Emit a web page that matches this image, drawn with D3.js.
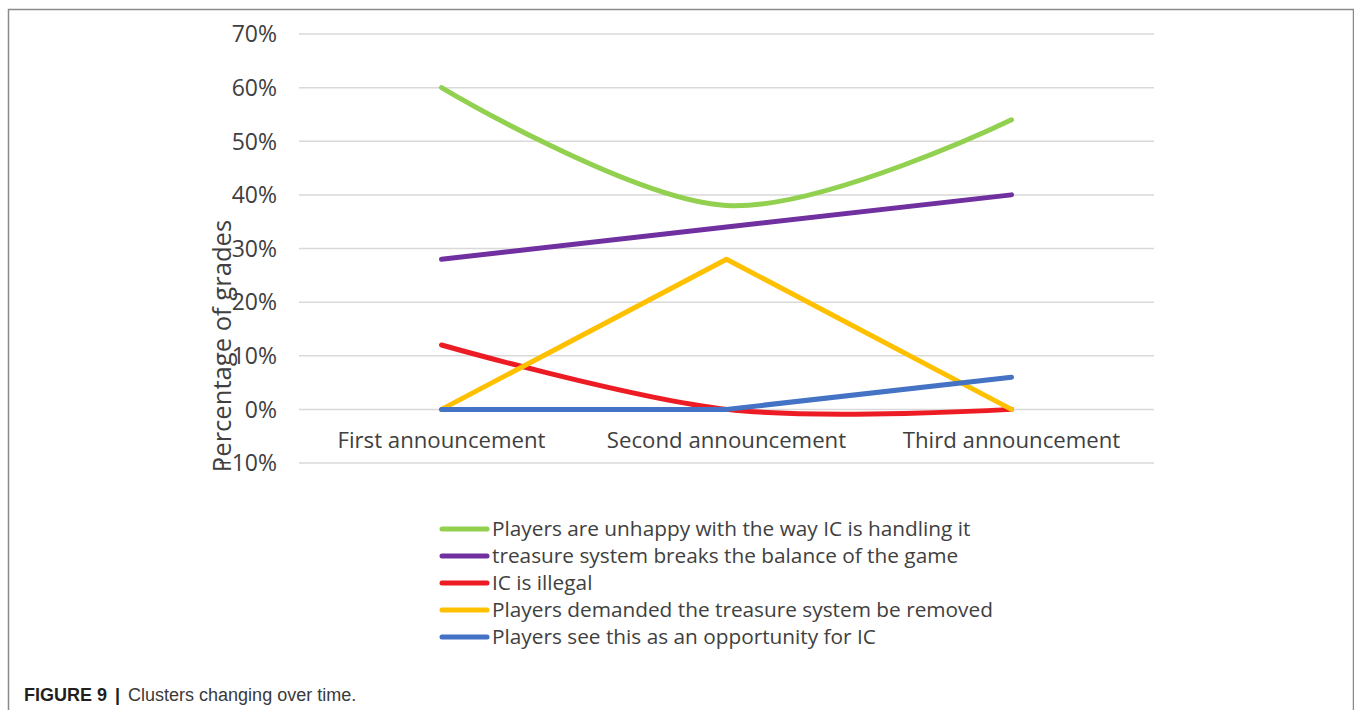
<!DOCTYPE html>
<html>
<head>
<meta charset="utf-8">
<script src="https://cdn.jsdelivr.net/npm/d3@7"></script>
<style>
  body { margin: 0; background: #fff; }
  svg { display: block; }
</style>
</head>
<body>
<svg width="1354" height="710"></svg>
<script>
"use strict";

const categories = ["First announcement", "Second announcement", "Third announcement"];
const seriesNames = [
    "Players are unhappy with the way IC is handling it",
    "treasure system breaks the balance of the game",
    "IC is illegal",
    "Players demanded the treasure system be removed",
    "Players see this as an opportunity for IC"
];
const unhappy = [0.60, 0.38, 0.54];
const balance = [0.28, 0.34, 0.40];
const illegal = [0.12, 0.00, 0.00];
const removed = [0.00, 0.28, 0.00];
const opportunity = [0.00, 0.00, 0.06];
const yTicks = [-0.1, 0, 0.1, 0.2, 0.3, 0.4, 0.5, 0.6, 0.7];

const colors = ["#92D050", "#7030A0", "#ED1C24", "#FFC000", "#4472C4"];
const smooth = [true, false, true, false, false];
const seriesValues = [unhappy, balance, illegal, removed, opportunity];

const svg = d3.select("svg");
const font = "'Open Sans', 'Noto Sans', sans-serif";
const textColor = "#404040";

// frame round the figure
svg.append("path")
    .attr("d", "M8.5,710 V9.5 H1353.5 V710")
    .attr("fill", "none")
    .attr("stroke", "#8a8a8a")
    .attr("stroke-width", 1.5);

const left = 299, right = 1154;
const xScale = d3.scaleBand()
    .domain(categories)
    .range([left, right]);

const yScale = d3.scaleLinear()
    .domain([-0.1, 0.7])
    .range([463, 34]);

const chart = svg.append("g");

// grid lines
chart.append("g")
    .selectAll("line")
    .data(yTicks)
    .enter()
    .append("line")
    .attr("x1", left)
    .attr("x2", right)
    .attr("y1", d => yScale(d))
    .attr("y2", d => yScale(d))
    .attr("stroke", "#d9d9d9")
    .attr("stroke-width", 1.5);

// y tick labels
chart.append("g")
    .selectAll("text")
    .data(yTicks)
    .enter()
    .append("text")
    .attr("x", 277)
    .attr("y", d => yScale(d))
    .attr("dy", "0.36em")
    .attr("text-anchor", "end")
    .attr("font-family", font)
    .attr("font-size", 23)
    .attr("fill", textColor)
    .text(d => d3.format(".0%")(d));

// category labels
chart.append("g")
    .selectAll("text")
    .data(categories)
    .enter()
    .append("text")
    .attr("x", d => xScale(d) + xScale.bandwidth() / 2)
    .attr("y", 440)
    .attr("dy", "0.36em")
    .attr("text-anchor", "middle")
    .attr("font-family", font)
    .attr("font-size", 22.2)
    .attr("fill", textColor)
    .text(d => d);

// y axis title
svg.append("text")
    .attr("transform", "translate(222, 346) rotate(-90)")
    .attr("dy", "0.36em")
    .attr("text-anchor", "middle")
    .attr("font-family", font)
    .attr("font-size", 25.6)
    .attr("fill", textColor)
    .text("Percentage of grades");

// series lines
seriesValues.forEach((vals, i) => {
    const line = d3.line()
        .x((d, j) => xScale(categories[j]) + xScale.bandwidth() / 2)
        .y(d => yScale(d))
        .curve(smooth[i] ? d3.curveCardinal.tension(0) : d3.curveLinear);
    chart.append("path")
        .datum(vals)
        .attr("d", line)
        .attr("fill", "none")
        .attr("stroke", colors[i])
        .attr("stroke-width", 5)
        .attr("stroke-linecap", "round")
        .attr("stroke-linejoin", "round");
});

// legend
const legend = svg.append("g");
seriesNames.forEach((name, i) => {
    const y = 529 + i * 27;
    legend.append("line")
        .attr("x1", 442).attr("x2", 487)
        .attr("y1", y).attr("y2", y)
        .attr("stroke", colors[i])
        .attr("stroke-width", 5)
        .attr("stroke-linecap", "round");
    legend.append("text")
        .attr("x", 492)
        .attr("y", y)
        .attr("dy", "0.36em")
        .attr("font-family", font)
        .attr("font-size", 20.8)
        .attr("fill", textColor)
        .text(name);
});

// caption
const caption = svg.append("text")
    .attr("x", 24)
    .attr("y", 701)
    .attr("font-family", "'Liberation Sans', Arial, sans-serif")
    .attr("font-size", 18)
    .attr("fill", "#231f20");
caption.append("tspan").attr("font-weight", "bold").text("FIGURE 9");
caption.append("tspan").attr("font-weight", "bold").attr("dx", 8).text("|");
caption.append("tspan").attr("dx", 8).attr("fill", "#3a3a3a").text("Clusters changing over time.");
</script>
</body>
</html>
